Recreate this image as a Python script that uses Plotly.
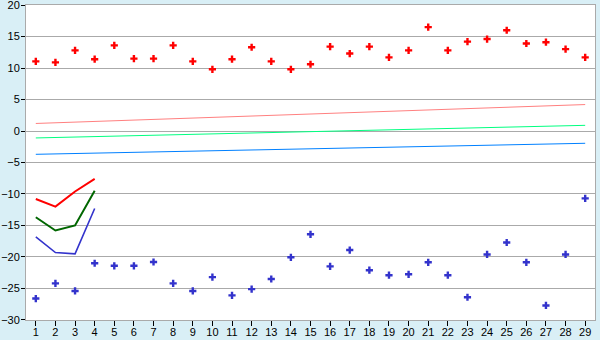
import plotly.graph_objects as go

days = list(range(1, 30))
red_pts = [11.06, 10.9, 12.8, 11.4, 13.6, 11.5, 11.5, 13.6, 11.06, 9.8,
           11.4, 13.3, 11.06, 9.8, 10.6, 13.4, 12.3, 13.4, 11.7, 12.8,
           16.5, 12.8, 14.2, 14.6, 16.0, 13.9, 14.1, 13.0, 11.7]
blue_pts = [-26.6, -24.2, -25.4, -21.0, -21.4, -21.4, -20.8, -24.2, -25.4, -23.2,
            -26.1, -25.1, -23.5, -20.05, -16.4, -21.5, -18.9, -22.1, -22.9, -22.75,
            -20.85, -22.9, -26.4, -19.6, -17.7, -20.85, -27.7, -19.6, -10.7]
short_x = [1, 2, 3, 4]
red_line = [-10.8, -12.0, -9.6, -7.6]
green_line = [-13.7, -15.8, -15.0, -9.5]
blue_line = [-16.8, -19.3, -19.5, -12.3]
trend_x = [1, 29]
pink_trend = [1.2, 4.2]
green_trend = [-1.1, 0.9]
blue_trend = [-3.7, -1.95]
y_ticks = [20, 15, 10, 5, 0, -5, -10, -15, -20, -25, -30]

fig = go.Figure()
fig.add_trace(go.Scatter(x=trend_x, y=pink_trend, mode="lines", line=dict(color="#ff8080", width=1)))
fig.add_trace(go.Scatter(x=trend_x, y=green_trend, mode="lines", line=dict(color="#00ff80", width=1)))
fig.add_trace(go.Scatter(x=trend_x, y=blue_trend, mode="lines", line=dict(color="#0080ff", width=1)))
fig.add_trace(go.Scatter(x=days, y=red_pts, mode="markers",
                         marker=dict(symbol="cross", size=6, color="#ff0000", line=dict(width=0))))
fig.add_trace(go.Scatter(x=days, y=blue_pts, mode="markers",
                         marker=dict(symbol="cross", size=6, color="#3333cc", line=dict(width=0))))
fig.add_trace(go.Scatter(x=short_x, y=red_line, mode="lines", line=dict(color="#ff0000", width=2)))
fig.add_trace(go.Scatter(x=short_x, y=green_line, mode="lines", line=dict(color="#006600", width=2)))
fig.add_trace(go.Scatter(x=short_x, y=blue_line, mode="lines", line=dict(color="#3333cc", width=1.6)))

fig.update_layout(
    width=600, height=340,
    margin=dict(l=26, r=5, t=5, b=20, autoexpand=False),
    paper_bgcolor="#d9eff6", plot_bgcolor="#ffffff",
    showlegend=False,
    font=dict(family="Liberation Sans", size=11, color="#000000"),
)
fig.update_xaxes(range=[0.5, 29.5], tickmode="array", tickvals=days, ticktext=[str(d) for d in days],
                 showgrid=False, ticks="outside", ticklen=5, tickcolor="#000000", automargin=False,
                 ticklabeloverflow="allow", ticklabelstandoff=-3,
                 showline=True, linecolor="#aaaaaa", linewidth=1, mirror=True, zeroline=False)
fig.update_yaxes(range=[-30.01, 20.01], tickmode="array", tickvals=y_ticks,
                 ticktext=[str(v) if v >= 0 else "\u2212" + str(-v) for v in y_ticks],
                 showgrid=True, gridcolor="#aaaaaa", gridwidth=1, automargin=False,
                 ticklabeloverflow="allow", ticklabelstandoff=-1,
                 ticks="outside", ticklen=4, tickcolor="#000000",
                 showline=True, linecolor="#aaaaaa", linewidth=1, mirror=True, zeroline=False)

fig.write_html("out.html")
